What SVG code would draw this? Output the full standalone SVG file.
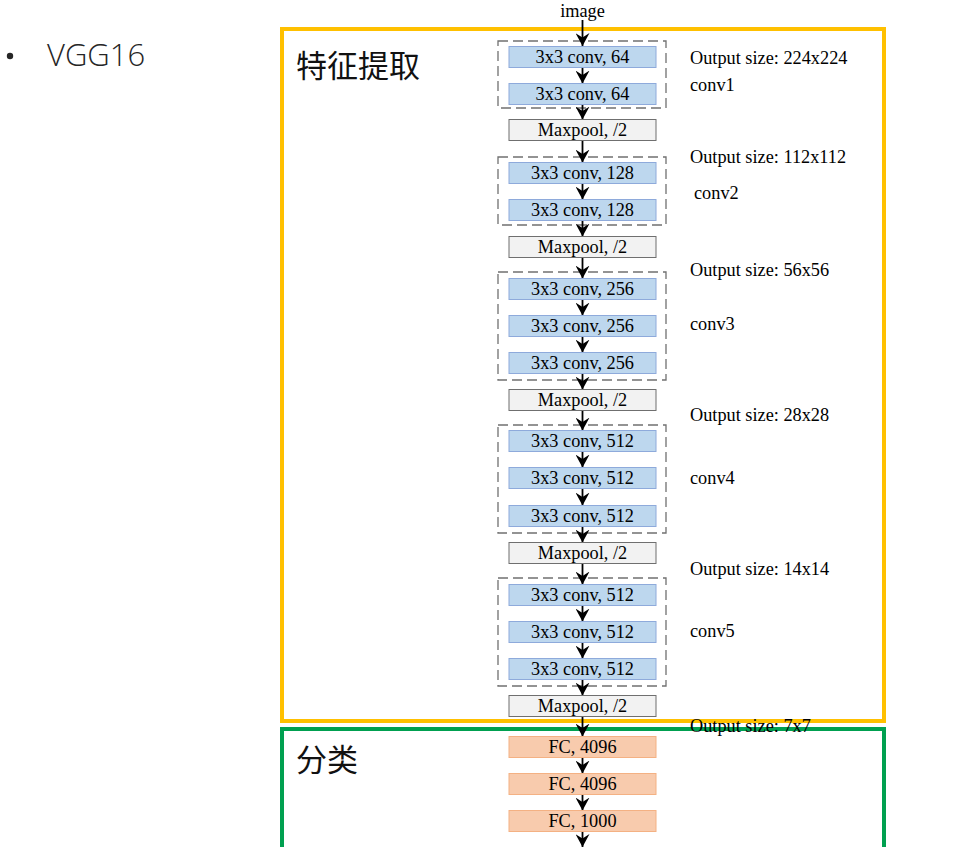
<svg xmlns="http://www.w3.org/2000/svg" width="967" height="847" viewBox="0 0 967 847">
<style>
.t{font-family:"Liberation Serif","Times New Roman",serif;font-size:18.3px;fill:#000}
.c{text-anchor:middle}
.conv{fill:#BDD7EE;stroke:#8EAADB;stroke-width:1}
.pool{fill:#F2F2F2;stroke:#6F6F6F;stroke-width:1}
.fc{fill:#F8CBAD;stroke:#F4B183;stroke-width:1}
.grp{fill:none;stroke:#707070;stroke-width:1.3;stroke-dasharray:10,5}
.ar{stroke:#000;stroke-width:1.8;fill:none;marker-end:url(#ah)}
.zh{font-family:"Noto Sans CJK SC","Noto Sans",sans-serif;font-size:31px;fill:#111}
</style>
<defs>
<marker id="ah" markerUnits="userSpaceOnUse" markerWidth="14" markerHeight="14" refX="12" refY="6.5" orient="auto" viewBox="0 0 13 13">
<path d="M0,0 L12,6.5 L0,13 L4,6.5 z" fill="#000"/>
</marker>
</defs>
<rect width="967" height="847" fill="#fff"/>

<g id="bullet">
<circle cx="10" cy="56" r="3.2" fill="#262626"/>
<text x="47" y="66" style="font-family:'Open Sans','Noto Sans',sans-serif;font-size:31px;font-weight:300;fill:#262626">VGG16</text>
</g>

<g id="feature-box">
<rect x="282" y="29" width="602" height="692" fill="none" stroke="#FFC000" stroke-width="4"/>
<text class="zh" x="296" y="77">特征提取</text>
</g>
<g id="classify-box">
<rect x="282" y="729" width="602" height="140" fill="none" stroke="#00A050" stroke-width="4"/>
<text class="zh" x="296" y="771">分类</text>
</g>

<g id="groups">
<rect class="grp" x="498" y="41" width="168" height="67"/>
<rect class="grp" x="498" y="157" width="168" height="68"/>
<rect class="grp" x="498" y="272" width="168" height="108"/>
<rect class="grp" x="498" y="425" width="168" height="108"/>
<rect class="grp" x="498" y="578" width="168" height="108"/>
</g>

<g id="connectors">
<line class="ar" x1="582.5" y1="20" x2="582.5" y2="46"/>
<line class="ar" x1="582.5" y1="67.5" x2="582.5" y2="83.5"/>
<line class="ar" x1="582.5" y1="104.5" x2="582.5" y2="119.5"/>
<line class="ar" x1="582.5" y1="140.5" x2="582.5" y2="162.5"/>
<line class="ar" x1="582.5" y1="183.5" x2="582.5" y2="199.5"/>
<line class="ar" x1="582.5" y1="220.5" x2="582.5" y2="236.5"/>
<line class="ar" x1="582.5" y1="257.5" x2="582.5" y2="278.5"/>
<line class="ar" x1="582.5" y1="299.5" x2="582.5" y2="315.5"/>
<line class="ar" x1="582.5" y1="336.5" x2="582.5" y2="352.5"/>
<line class="ar" x1="582.5" y1="373.5" x2="582.5" y2="389.5"/>
<line class="ar" x1="582.5" y1="410.5" x2="582.5" y2="430.5"/>
<line class="ar" x1="582.5" y1="451.5" x2="582.5" y2="467.5"/>
<line class="ar" x1="582.5" y1="488.5" x2="582.5" y2="505.5"/>
<line class="ar" x1="582.5" y1="526.5" x2="582.5" y2="542.5"/>
<line class="ar" x1="582.5" y1="563.5" x2="582.5" y2="584.5"/>
<line class="ar" x1="582.5" y1="605.5" x2="582.5" y2="621.5"/>
<line class="ar" x1="582.5" y1="642.5" x2="582.5" y2="658.5"/>
<line class="ar" x1="582.5" y1="679.5" x2="582.5" y2="695.5"/>
<line class="ar" x1="582.5" y1="716.5" x2="582.5" y2="736.5"/>
<line class="ar" x1="582.5" y1="757.5" x2="582.5" y2="773.5"/>
<line class="ar" x1="582.5" y1="794.5" x2="582.5" y2="810.5"/>
<line class="ar" x1="582.5" y1="831.5" x2="582.5" y2="847"/>
</g>

<g id="image"><text class="t c" x="582.5" y="17">image</text></g>

<g id="conv1a"><rect class="conv" x="509" y="46.5" width="147" height="21"/><text class="t c" x="582.5" y="63">3x3 conv, 64</text></g>
<g id="conv1b"><rect class="conv" x="509" y="83.5" width="147" height="21"/><text class="t c" x="582.5" y="100">3x3 conv, 64</text></g>
<g id="pool1"><rect class="pool" x="509" y="119.5" width="147" height="21"/><text class="t c" x="582.5" y="136">Maxpool, /2</text></g>

<g id="conv2a"><rect class="conv" x="509" y="162.5" width="147" height="21"/><text class="t c" x="582.5" y="179">3x3 conv, 128</text></g>
<g id="conv2b"><rect class="conv" x="509" y="199.5" width="147" height="21"/><text class="t c" x="582.5" y="216">3x3 conv, 128</text></g>
<g id="pool2"><rect class="pool" x="509" y="236.5" width="147" height="21"/><text class="t c" x="582.5" y="253">Maxpool, /2</text></g>

<g id="conv3a"><rect class="conv" x="509" y="278.5" width="147" height="21"/><text class="t c" x="582.5" y="295">3x3 conv, 256</text></g>
<g id="conv3b"><rect class="conv" x="509" y="315.5" width="147" height="21"/><text class="t c" x="582.5" y="332">3x3 conv, 256</text></g>
<g id="conv3c"><rect class="conv" x="509" y="352.5" width="147" height="21"/><text class="t c" x="582.5" y="369">3x3 conv, 256</text></g>
<g id="pool3"><rect class="pool" x="509" y="389.5" width="147" height="21"/><text class="t c" x="582.5" y="406">Maxpool, /2</text></g>

<g id="conv4a"><rect class="conv" x="509" y="430.5" width="147" height="21"/><text class="t c" x="582.5" y="447">3x3 conv, 512</text></g>
<g id="conv4b"><rect class="conv" x="509" y="467.5" width="147" height="21"/><text class="t c" x="582.5" y="484">3x3 conv, 512</text></g>
<g id="conv4c"><rect class="conv" x="509" y="505.5" width="147" height="21"/><text class="t c" x="582.5" y="522">3x3 conv, 512</text></g>
<g id="pool4"><rect class="pool" x="509" y="542.5" width="147" height="21"/><text class="t c" x="582.5" y="559">Maxpool, /2</text></g>

<g id="conv5a"><rect class="conv" x="509" y="584.5" width="147" height="21"/><text class="t c" x="582.5" y="601">3x3 conv, 512</text></g>
<g id="conv5b"><rect class="conv" x="509" y="621.5" width="147" height="21"/><text class="t c" x="582.5" y="638">3x3 conv, 512</text></g>
<g id="conv5c"><rect class="conv" x="509" y="658.5" width="147" height="21"/><text class="t c" x="582.5" y="675">3x3 conv, 512</text></g>
<g id="pool5"><rect class="pool" x="509" y="695.5" width="147" height="21"/><text class="t c" x="582.5" y="712">Maxpool, /2</text></g>

<g id="fc1"><rect class="fc" x="509" y="736.5" width="147" height="21"/><text class="t c" x="582.5" y="753">FC, 4096</text></g>
<g id="fc2"><rect class="fc" x="509" y="773.5" width="147" height="21"/><text class="t c" x="582.5" y="790">FC, 4096</text></g>
<g id="fc3"><rect class="fc" x="509" y="810.5" width="147" height="21"/><text class="t c" x="582.5" y="827">FC, 1000</text></g>

<g id="labels">
<text class="t" x="690" y="64">Output size: 224x224</text>
<text class="t" x="690" y="91">conv1</text>
<text class="t" x="690" y="163">Output size: 112x112</text>
<text class="t" x="694" y="199">conv2</text>
<text class="t" x="690" y="276">Output size: 56x56</text>
<text class="t" x="690" y="330">conv3</text>
<text class="t" x="690" y="421">Output size: 28x28</text>
<text class="t" x="690" y="484">conv4</text>
<text class="t" x="690" y="575">Output size: 14x14</text>
<text class="t" x="690" y="637">conv5</text>
<text class="t" x="690" y="732">Output size: 7x7</text>
</g>
</svg>
